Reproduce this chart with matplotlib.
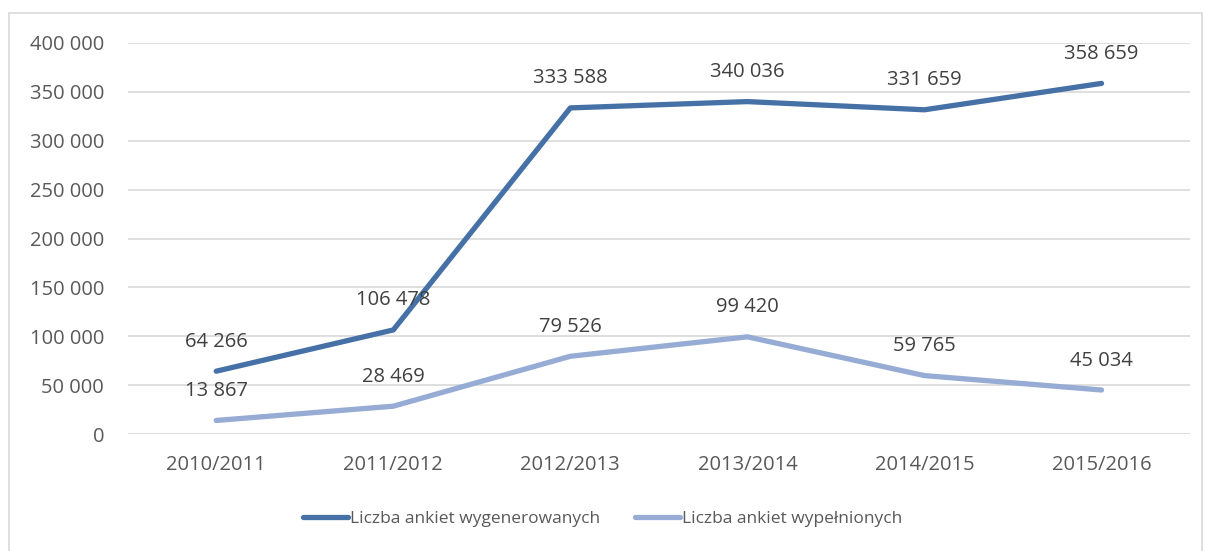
import matplotlib.pyplot as plt
from matplotlib.ticker import FuncFormatter

years = ['2010/2011', '2011/2012', '2012/2013', '2013/2014', '2014/2015', '2015/2016']
generated = [64266, 106478, 333588, 340036, 331659, 358659]
filled = [13867, 28469, 79526, 99420, 59765, 45034]
series_names = ['Liczba ankiet wygenerowanych', 'Liczba ankiet wypełnionych']

plt.rcParams['font.family'] = ['Open Sans', 'DejaVu Sans']


def fmt(v, pos=None):
    return f'{int(v):,}'.replace(',', ' ')


def main():
    fig = plt.figure(figsize=(12.05, 5.51), dpi=100)
    ax = fig.add_axes([0.106, 0.2123, 0.8816, 0.7097])

    # outer chart border like in the excel export
    fig.patches.append(plt.Rectangle((9 / 1205, -0.01), 1193 / 1205, 1 - 13 / 551 + 0.01,
                                     transform=fig.transFigure, fill=False,
                                     edgecolor='#D9D9D9', linewidth=1.2))

    x = list(range(len(years)))
    ax.plot(x, generated, color='#4571A6', lw=3.8, solid_capstyle='round',
            solid_joinstyle='round', label=series_names[0], zorder=3)
    ax.plot(x, filled, color='#96ACD5', lw=3.8, solid_capstyle='round',
            solid_joinstyle='round', label=series_names[1], zorder=3)

    for xi, v in zip(x, generated):
        ax.annotate(fmt(v), (xi, v), xytext=(0, 14), textcoords='offset points',
                    ha='center', va='bottom', fontsize=14.5, color='#404040')
    for xi, v in zip(x, filled):
        ax.annotate(fmt(v), (xi, v), xytext=(0, 14), textcoords='offset points',
                    ha='center', va='bottom', fontsize=14.5, color='#404040')

    ax.set_xlim(-0.5, len(years) - 0.5)
    ax.set_ylim(0, 400000)
    ax.set_yticks(range(0, 400001, 50000))
    ax.yaxis.set_major_formatter(FuncFormatter(fmt))
    ax.set_xticks(x)
    ax.set_xticklabels(years)
    ax.tick_params(length=0, labelsize=14.5, labelcolor='#595959')
    ax.tick_params(axis='y', pad=17)
    ax.tick_params(axis='x', pad=15)
    ax.grid(axis='y', color='#D9D9D9', lw=1.2)
    ax.set_axisbelow(True)
    for s in ax.spines.values():
        s.set_visible(False)

    fig.legend(loc='center', bbox_to_anchor=(0.5, 1 - 519 / 551), ncol=2, frameon=False,
               fontsize=12.5, labelcolor='#595959', handlelength=2.6, handletextpad=0.1,
               columnspacing=2.0)

    fig.savefig('out.png', dpi=100)


if __name__ == '__main__':
    main()
